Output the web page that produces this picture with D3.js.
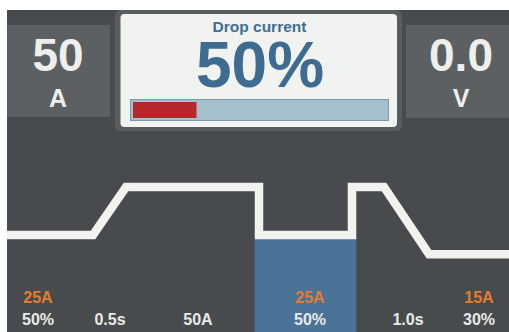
<!DOCTYPE html>
<html><head><meta charset="utf-8">
<script src="https://cdn.jsdelivr.net/npm/d3@7/dist/d3.min.js"></script>
<style>html,body{margin:0;padding:0;background:#fff;}svg{display:block;}</style>
</head><body>
<script>
// ---- data ----
const profileX = [0, 86, 119, 252, 252, 345, 345, 377, 422, 502];   // profile position units
const profileA = [25, 25, 50, 50, 25, 25, 50, 50, 15, 15];          // current (A)
const dropStartX = 252, dropEndX = 345, dropCurrent = 25;
const labelX = [31, 103, 191, 303, 401, 472];
const topLabels = ["25A", "", "", "25A", "", "15A"];
const bottomLabels = ["50%", "0.5s", "50A", "50%", "1.0s", "30%"];
const leftValue = "50", leftUnit = "A";
const rightValue = "0.0", rightUnit = "V";
const titleText = "Drop current";
const bigValue = "50%";
const barValue = 25, barMax = 100;

const W = 509, H = 332;
const font = "'Liberation Sans', Arial, Helvetica, sans-serif";
const svg = d3.select("body").append("svg").attr("width", W).attr("height", H);

// background
svg.append("rect").attr("x", 7).attr("y", 10).attr("width", W - 7).attr("height", H - 10).attr("fill", "#484b4d");

// side panels
svg.append("rect").attr("x", 7).attr("y", 25).attr("width", 103).attr("height", 92).attr("fill", "#5d6062");
svg.append("rect").attr("x", 406).attr("y", 25).attr("width", 103).attr("height", 93).attr("fill", "#5d6062");

const panelText = (cx, val, unit) => {
  svg.append("text").attr("x", cx).attr("y", 71).attr("text-anchor", "middle")
    .attr("font-family", font).attr("font-weight", "bold").attr("font-size", 46)
    .attr("fill", "#eeefec").text(val);
  svg.append("text").attr("x", cx).attr("y", 107).attr("text-anchor", "middle")
    .attr("font-family", font).attr("font-weight", "bold").attr("font-size", 25)
    .attr("fill", "#eeefec").text(unit);
};
panelText(58, leftValue, leftUnit);
panelText(461, rightValue, rightUnit);

// center box
svg.append("rect").attr("x", 115).attr("y", 10).attr("width", 287).attr("height", 121).attr("rx", 6).attr("fill", "#5a5d5f");
svg.append("rect").attr("x", 120.5).attr("y", 14).attr("width", 276.5).attr("height", 113).attr("rx", 4).attr("fill", "#f1f3f1");
svg.append("text").attr("x", 259.5).attr("y", 31.5).attr("text-anchor", "middle")
  .attr("font-family", font).attr("font-weight", "bold").attr("font-size", 15.5)
  .attr("fill", "#3f6e94").text(titleText);
svg.append("text").attr("x", 260).attr("y", 87).attr("text-anchor", "middle")
  .attr("font-family", font).attr("font-weight", "bold").attr("font-size", 64)
  .attr("fill", "#3e6b90").text(bigValue);

// progress bar
const barScale = d3.scaleLinear().domain([0, barMax]).range([133, 387]);
svg.append("rect").attr("x", 130.5).attr("y", 99.5).attr("width", 258).attr("height", 21)
  .attr("fill", "#a5bfcd").attr("stroke", "#7d98a8").attr("stroke-width", 1);
svg.append("rect").attr("x", barScale(0)).attr("y", 102).attr("width", barScale(barValue) - barScale(0)).attr("height", 16)
  .attr("fill", "#b8272b");

// profile scales
const x = d3.scaleLinear().domain([0, 502]).range([7, 509]);
const y = d3.scaleLinear().domain([0, 50]).range([283, 187]);
const lw = 8.5;

// highlighted drop segment
svg.append("rect").attr("x", x(dropStartX) - lw / 2).attr("y", y(dropCurrent))
  .attr("width", x(dropEndX) - x(dropStartX) + lw).attr("height", H - y(dropCurrent))
  .attr("fill", "#4a7397");

const line = d3.line().x((d, i) => x(profileX[i])).y((d, i) => y(profileA[i]));
svg.append("path").attr("d", line(profileA)).attr("fill", "none")
  .attr("stroke", "#f1f3ef").attr("stroke-width", lw).attr("stroke-linejoin", "miter");

// labels
svg.selectAll("text.top").data(topLabels).enter().append("text").attr("class", "top")
  .attr("x", (d, i) => x(labelX[i])).attr("y", 303).attr("text-anchor", "middle")
  .attr("font-family", font).attr("font-weight", "bold").attr("font-size", 16)
  .attr("fill", "#e57b2c").text(d => d);
svg.selectAll("text.bot").data(bottomLabels).enter().append("text").attr("class", "bot")
  .attr("x", (d, i) => x(labelX[i])).attr("y", 325).attr("text-anchor", "middle")
  .attr("font-family", font).attr("font-weight", "bold").attr("font-size", 16)
  .attr("fill", "#e8eae7").text(d => d);
</script>
</body></html>
